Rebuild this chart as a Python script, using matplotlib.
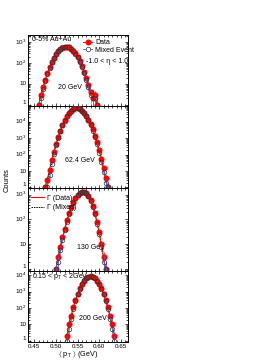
import numpy as np
import matplotlib
matplotlib.use("Agg")
import matplotlib.pyplot as plt
from matplotlib.ticker import LogLocator, FuncFormatter, MultipleLocator, NullFormatter
from matplotlib.lines import Line2D

plt.rcParams['font.family'] = ['Liberation Sans', 'DejaVu Sans']
plt.rcParams['mathtext.default'] = 'regular'

# <pT> bin centres and counts, one set per energy
energies = ["20 GeV", "62.4 GeV", "130 GeV", "200 GeV"]

x_20 = [0.460, 0.465, 0.470, 0.475, 0.480, 0.485, 0.490, 0.495, 0.500, 0.505,
        0.510, 0.515, 0.520, 0.525, 0.530, 0.535, 0.540, 0.545, 0.550, 0.555,
        0.560, 0.565, 0.570, 0.575, 0.580, 0.585, 0.590, 0.595]
data_20 = [1, 3, 7, 16, 33, 62, 112, 178, 270, 372, 478, 560, 612, 618, 572,
           495, 392, 290, 195, 124, 70, 38, 19, 9, 4, 2, 3, 1]
mixed_20 = [1, 2, 6, 14, 30, 60, 108, 180, 268, 380, 485, 570, 615, 610, 565,
            480, 380, 280, 186, 115, 64, 33, 16, 7, 3, 2, 2, 1]

x_62 = [0.475, 0.480, 0.485, 0.490, 0.495, 0.500, 0.505, 0.510, 0.515, 0.520,
        0.525, 0.530, 0.535, 0.540, 0.545, 0.550, 0.555, 0.560, 0.565, 0.570,
        0.575, 0.580, 0.585, 0.590, 0.595, 0.600, 0.605, 0.610, 0.615, 0.620]
data_62 = [1, 3, 12, 45, 150, 440, 1190, 2860, 6150, 11900, 20700, 32200, 45100,
           56600, 63700, 64400, 58400, 47600, 34800, 22800, 13400, 7100, 3360,
           1430, 545, 187, 57, 16, 4, 1]
mixed_62 = [1, 1, 6, 28, 110, 360, 1050, 2650, 5900, 11700, 20700, 32500, 45800,
            57500, 64500, 65000, 58600, 47200, 34000, 21800, 12500, 6400, 2900,
            1160, 420, 130, 36, 9, 2, 1]

x_130 = [0.500, 0.505, 0.510, 0.515, 0.520, 0.525, 0.530, 0.535, 0.540, 0.545,
         0.550, 0.555, 0.560, 0.565, 0.570, 0.575, 0.580, 0.585, 0.590, 0.595,
         0.600, 0.605, 0.610, 0.615]
data_130 = [1, 3, 8, 19, 43, 92, 176, 308, 492, 717, 953, 1156, 1279, 1286, 1136,
            876, 588, 345, 176, 78, 30, 10, 3, 1]
mixed_130 = [1, 2, 6, 15, 36, 80, 160, 290, 475, 705, 950, 1165, 1295, 1300, 1150,
             880, 580, 330, 160, 68, 25, 8, 2, 1]

x_200 = [0.525, 0.530, 0.535, 0.540, 0.545, 0.550, 0.555, 0.560, 0.565, 0.570,
         0.575, 0.580, 0.585, 0.590, 0.595, 0.600, 0.605, 0.610, 0.615, 0.620,
         0.625, 0.630, 0.635]
data_200 = [2, 10, 35, 112, 312, 762, 1620, 3005, 4855, 6840, 8400, 9000, 8400,
            6840, 4855, 3005, 1620, 762, 312, 112, 35, 10, 2]
mixed_200 = [1, 5, 22, 85, 265, 700, 1560, 2980, 4900, 6950, 8550, 9150, 8550,
             6950, 4880, 2960, 1560, 700, 260, 85, 22, 5, 1]

panels = [(x_20, data_20, mixed_20), (x_62, data_62, mixed_62),
          (x_130, data_130, mixed_130), (x_200, data_200, mixed_200)]
ylims = [(0.87, 2240), (0.93, 9e4), (0.87, 1870), (0.9, 2e4)]

# panel boxes in pixels (top, bottom) for a 280x362 canvas
W, H = 280, 362
boxes = [(35, 106), (106, 188), (188, 270.5), (270.5, 341.5)]
left, right = 28.3, 128.3

fs = 5.0
tfs = 4.5
ms = 3.3
fig = plt.figure(figsize=(W / 100, H / 100), dpi=100)


def log_label(v, pos):
    if v <= 0:
        return ""
    e = int(round(np.log10(v)))
    if abs(np.log10(v) - e) > 1e-6:
        return ""
    if e == 0:
        return "1"
    if e == 1:
        return "10"
    return r"$10^{%d}$" % e


axes = []
for i, ((top, bot), (x, d, m), yl) in enumerate(zip(boxes, panels, ylims)):
    ax = fig.add_axes([left / W, 1 - bot / H, (right - left) / W, (bot - top) / H])
    axes.append(ax)
    x = np.array(x)
    d = np.array(d, dtype=float)
    m = np.array(m, dtype=float)

    ax.plot(x, m, ls=(0, (1.5, 1)), color="black", lw=0.6, zorder=2)
    ax.plot(x, d, ls="-", color="red", lw=0.7, zorder=3)
    ax.errorbar(x, d, yerr=np.sqrt(d), fmt="o", ms=ms, color="red", mec="red",
                ecolor="red", elinewidth=0.5, capsize=0, zorder=4)
    ax.errorbar(x, m, yerr=np.sqrt(m), fmt="o", ms=ms, mfc="none", mec="#333333",
                mew=0.5, ecolor="#5566dd", elinewidth=0.5, capsize=0, zorder=5)

    ax.set_yscale("log")
    ax.set_xlim(0.436, 0.667)
    ax.set_ylim(*yl)
    ax.yaxis.set_major_locator(LogLocator(base=10, numticks=10))
    ax.yaxis.set_minor_locator(LogLocator(base=10, subs=np.arange(2, 10), numticks=20))
    ax.yaxis.set_major_formatter(FuncFormatter(log_label))
    ax.yaxis.set_minor_formatter(NullFormatter())
    ax.xaxis.set_major_locator(MultipleLocator(0.05))
    ax.xaxis.set_minor_locator(MultipleLocator(0.01))
    ax.tick_params(which="both", direction="in", top=True, right=True,
                   labelsize=tfs, pad=1.5, width=0.5)
    ax.tick_params(which="major", length=2.4)
    ax.tick_params(which="minor", length=1.3)
    for s in ax.spines.values():
        s.set_linewidth(0.7)
    if i < 3:
        ax.set_xticklabels([])
    ax.text(0.45, 0.25, energies[i], transform=ax.transAxes, fontsize=fs,
            ha="left", va="center")
    # keep the "1" label sitting just above the panel's lower edge
    for lab in ax.get_yticklabels():
        lab.set_va("bottom" if lab.get_text() == "1" else "center")

# energy labels positions differ a little per panel
axes[0].texts[0].set_position((0.30, 0.26))
axes[1].texts[0].set_position((0.37, 0.33))
axes[2].texts[0].set_position((0.49, 0.28))
axes[3].texts[0].set_position((0.51, 0.33))

# top panel annotations and legend
axes[0].text(0.04, 0.93, "0-5% Au+Au", transform=axes[0].transAxes, fontsize=fs,
             ha="left", va="center")
axes[0].text(0.58, 0.63, r"-1.0 < η < 1.0", transform=axes[0].transAxes,
             fontsize=fs, ha="left", va="center")
h_data = Line2D([], [], color="red", marker="o", ms=ms, lw=0.7)
h_mix = Line2D([], [], color="#5566dd", marker="o", ms=ms, mfc="white",
               mec="#333333", mew=0.5, lw=0.7)
axes[0].legend([h_data, h_mix], ["Data", "Mixed Event"], loc="upper left",
               bbox_to_anchor=(0.5, 1.01), fontsize=fs, frameon=False,
               handlelength=1.3, handletextpad=0.4, labelspacing=0.1,
               borderpad=0.2)

# third panel fit legend
h_gd = Line2D([], [], color="red", lw=0.8)
h_gm = Line2D([], [], color="black", lw=0.7, ls=(0, (1.5, 1)))
axes[2].legend([h_gd, h_gm], ["Γ (Data)", "Γ (Mixed)"], loc="upper left",
               bbox_to_anchor=(-0.02, 0.98), fontsize=fs, frameon=False,
               handlelength=1.8, handletextpad=0.5, labelspacing=0.4,
               borderpad=0.2)

axes[3].text(0.04, 0.92, r"0.15 < p$_{T}$ < 2GeV", transform=axes[3].transAxes,
             fontsize=fs, ha="left", va="center")

fig.text(7 / W, 1 - 180 / H, "Counts", rotation=90, fontsize=fs + 0.4,
         ha="center", va="center")
fig.text(78 / W, 1 - 355 / H, r"$\langle$ p$_{T}$ $\rangle$ (GeV)",
         fontsize=fs + 0.2, ha="center", va="center")

fig.savefig("out.png", dpi=100)
